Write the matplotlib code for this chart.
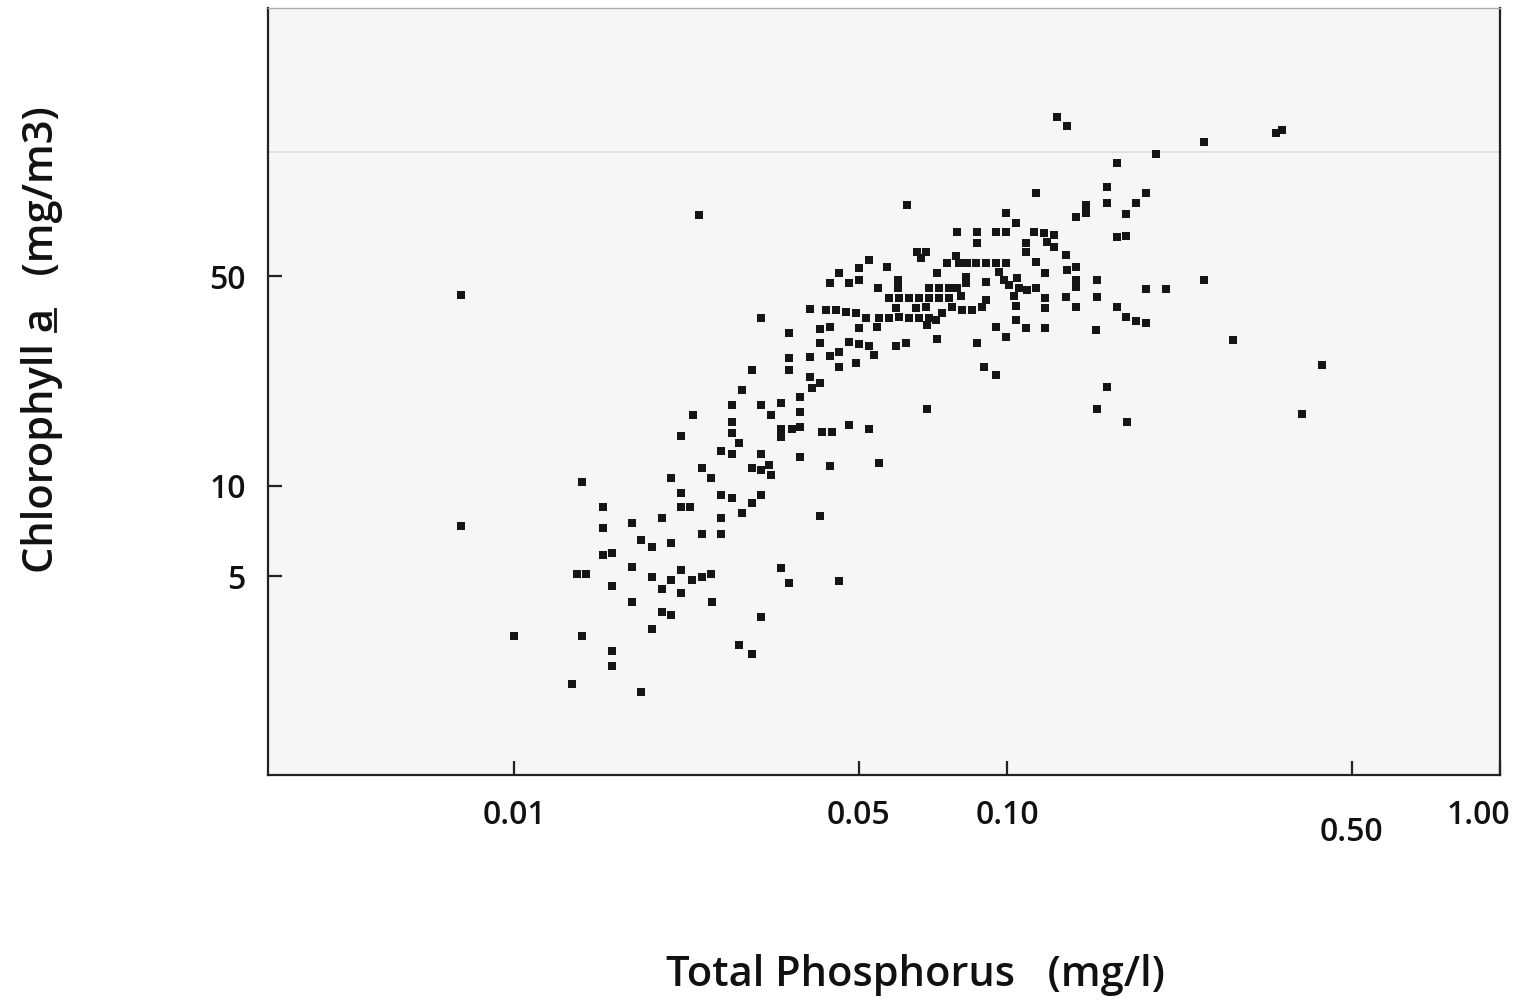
import matplotlib
matplotlib.use("Agg")
import matplotlib.pyplot as plt
from matplotlib.lines import Line2D
from matplotlib.transforms import ScaledTranslation

plt.rcParams['font.family'] = ['Open Sans', 'DejaVu Sans']

# Total phosphorus (mg/l) and chlorophyll a (mg/m3)
tp_mgl = [
    # low phosphorus end
    0.0078, 0.0078, 0.0100, 0.0131, 0.0137, 0.0137, 0.0134, 0.0140, 0.0151, 0.0151,
    0.0151, 0.0158, 0.0158, 0.0158, 0.0158, 0.0173, 0.0173, 0.0173, 0.0181, 0.0190,
    0.0181, 0.0190, 0.0190, 0.0199, 0.0199, 0.0199, 0.0208, 0.0208, 0.0208, 0.0208,
    0.0218, 0.0218, 0.0218, 0.0227, 0.0218, 0.0218, 0.0229, 0.0240, 0.0251, 0.0230,
    0.0240, 0.0251, 0.0252, 0.0240, 0.0237,
    # rising part
    0.0263, 0.0276, 0.0263, 0.0276, 0.0263, 0.0263, 0.0276, 0.0276, 0.0276, 0.0286,
    0.0289, 0.0289, 0.0303, 0.0317, 0.0332, 0.0329, 0.0303, 0.0317, 0.0317, 0.0317,
    0.0332, 0.0348, 0.0348, 0.0348, 0.0365, 0.0379, 0.0379, 0.0379, 0.0379, 0.0317,
    0.0348, 0.0361, 0.0286, 0.0303, 0.0456, 0.0416, 0.0420, 0.0440, 0.0478, 0.0525,
    0.0550, 0.0436, 0.0397, 0.0416, 0.0402,
    # dense middle
    0.0303, 0.0317, 0.0361, 0.0361, 0.0361, 0.0397, 0.0436, 0.0456, 0.0456, 0.0494,
    0.0537, 0.0397, 0.0429, 0.0449, 0.0471, 0.0494, 0.0416, 0.0436, 0.0501, 0.0545,
    0.0416, 0.0478, 0.0501, 0.0525, 0.0596, 0.0624, 0.0721, 0.0688, 0.0718, 0.0738,
    0.0518, 0.0550, 0.0576, 0.0604, 0.0633, 0.0663, 0.0695, 0.0596, 0.0654, 0.0685,
    0.0576, 0.0604, 0.0633, 0.0663, 0.0695, 0.0728, 0.0763, 0.0695, 0.0728, 0.0763,
    0.0792, 0.0547, 0.0601, 0.0601, 0.0456, 0.0436, 0.0478, 0.0501, 0.0525, 0.0501,
    0.0571, 0.0657, 0.0685, 0.0669, 0.0788, 0.0753, 0.0721, 0.0627,
    # around 0.1 mg/l
    0.1447, 0.1447, 0.1380, 0.0995, 0.1043, 0.0792, 0.0870, 0.0870, 0.0950, 0.0995,
    0.1134, 0.1188, 0.1245, 0.1206, 0.1245, 0.1317, 0.1092, 0.1092, 0.0799, 0.0830,
    0.0866, 0.0907, 0.0950, 0.0995, 0.1145, 0.1194, 0.1323, 0.1380, 0.1380, 0.1380,
    0.1523, 0.0826, 0.0826, 0.0907, 0.0963, 0.0986, 0.1009, 0.1048, 0.1057, 0.1097,
    0.1145, 0.0807, 0.0774, 0.0811, 0.0850, 0.0890, 0.0907, 0.1033, 0.1043, 0.1194,
    0.1194, 0.1317, 0.1380, 0.1523, 0.0950, 0.0995, 0.1043, 0.1092, 0.1194, 0.1516,
    0.0870, 0.0898, 0.0950, 0.0688, 0.1145,
    # high phosphorus end
    0.1263, 0.1323, 0.2511, 0.3512, 0.3612, 0.2006, 0.1672, 0.1596, 0.1596, 0.1827,
    0.1915, 0.1744, 0.1672, 0.1744, 0.1915, 0.2102, 0.2511, 0.1672, 0.1744, 0.1827,
    0.1915, 0.2873, 0.4356, 0.1596, 0.1523, 0.1752, 0.3966,
]

chl_mgm3 = [
    43.2, 7.34, 3.15, 2.18, 10.3, 3.15, 5.08, 5.08, 8.49, 7.23,
    5.87, 5.96, 4.63, 2.81, 2.51, 7.52, 5.36, 4.10, 6.59, 6.24,
    2.06, 4.96, 3.33, 7.81, 4.52, 3.79, 3.70, 6.44, 4.85, 10.6,
    14.7, 9.46, 8.49, 8.49, 5.24, 4.39, 4.85, 4.96, 5.08, 17.2,
    11.5, 10.6, 4.10, 6.90, 79.8,

    13.1, 12.8, 9.31, 9.10, 7.81, 6.90, 18.6, 16.3, 15.0, 13.9,
    20.8, 8.11, 11.5, 11.3, 10.9, 11.7, 8.75, 9.31, 12.8, 18.6,
    17.2, 18.9, 15.5, 14.5, 15.5, 15.7, 17.6, 12.5, 19.7, 3.65,
    5.32, 4.74, 2.94, 2.74, 4.81, 7.93, 15.1, 15.1, 15.9, 15.4,
    11.9, 11.6, 23.0, 22.0, 21.1,

    24.3, 36.1, 32.3, 26.6, 24.3, 26.8, 27.0, 27.9, 24.9, 25.6,
    27.2, 38.8, 38.5, 38.5, 37.9, 37.6, 33.3, 33.8, 33.5, 33.8,
    29.9, 30.1, 29.6, 29.2, 29.2, 29.9, 30.8, 34.3, 35.6, 37.6,
    36.1, 36.1, 36.1, 36.4, 36.1, 36.1, 36.1, 39.1, 39.1, 39.4,
    42.2, 42.2, 42.2, 42.2, 42.2, 42.2, 42.2, 45.6, 45.6, 45.6,
    45.6, 45.6, 48.5, 45.6, 51.1, 47.4, 47.4, 48.5, 56.5, 53.1,
    53.5, 60.1, 60.1, 57.4, 58.3, 55.2, 51.1, 86.1,

    86.1, 81.0, 78.6, 81.0, 75.0, 70.0, 70.0, 64.4, 70.0, 70.0,
    70.0, 69.5, 68.4, 64.9, 62.5, 58.8, 64.4, 60.1, 55.2, 55.2,
    55.2, 55.2, 55.2, 55.2, 55.6, 51.1, 52.3, 53.5, 48.5, 46.0,
    48.5, 49.6, 47.4, 47.8, 51.5, 48.5, 46.7, 49.2, 45.6, 44.9,
    45.6, 42.9, 39.4, 38.5, 38.5, 39.4, 41.6, 42.9, 39.8, 42.2,
    39.1, 42.5, 39.4, 42.5, 33.8, 31.3, 35.6, 33.5, 33.5, 33.0,
    29.9, 24.9, 23.4, 18.0, 94.5,

    169.5, 158.1, 139.8, 149.8, 153.3, 127.5, 119.0, 98.9, 87.5, 87.5,
    94.5, 80.5, 67.4, 67.9, 45.2, 45.2, 48.5, 39.4, 36.4, 35.3,
    35.0, 30.6, 25.2, 21.3, 18.0, 16.25, 17.4,
]

x_ticks = [0.01, 0.05, 0.10, 0.50, 1.00]
x_labels = ['0.01', '0.05', '0.10', '0.50', '1.00']
y_ticks = [5, 10, 50]
y_labels = ['5', '10', '50']

fig = plt.figure(figsize=(15.25, 10.02), dpi=100)
ax = fig.add_axes([0.1757, 0.2265, 0.8079, 0.7655])
ax.set_facecolor('#f6f6f6')

ax.scatter(tp_mgl, chl_mgm3, marker='s', s=36, color='#151515', linewidths=0, zorder=3)

ax.set_xscale('log')
ax.set_yscale('log')
ax.set_xlim(0.00316, 1.0)
ax.set_ylim(1.086, 391)

# faint scan line across the top of the plot
ax.axhline(130, color='#dcdcdc', lw=1.2, zorder=1)

ax.minorticks_off()
ax.set_xticks(x_ticks)
ax.set_xticklabels(x_labels)
ax.set_yticks(y_ticks)
ax.set_yticklabels(y_labels)
ax.tick_params(direction='in', length=10, width=1.6, color='#222222',
               labelsize=23, pad=17, labelcolor='#111111')
ax.tick_params(axis='y', pad=16)
for lab in ax.get_xticklabels() + ax.get_yticklabels():
    lab.set_fontweight('semibold')
# the 0.50 label sits a bit lower and 1.00 a bit to the left in the original
xl = ax.get_xticklabels()
xl[3].set_y(-0.022)
xl[4].set_transform(xl[4].get_transform() + ScaledTranslation(-0.22, 0, fig.dpi_scale_trans))

for side in ['left', 'bottom', 'right', 'top']:
    ax.spines[side].set_color('#222222')
    ax.spines[side].set_linewidth(1.6)
ax.spines['top'].set_color('#aaaaaa')
ax.spines['top'].set_linewidth(1.0)

fig.text(0.6, 0.027, 'Total Phosphorus   (mg/l)', ha='center', va='center',
         fontsize=30, fontweight='semibold', color='#111111')
ylab = fig.text(0.0275, 0.661, 'Chlorophyll a   (mg/m3)', rotation=90,
                ha='center', va='center', fontsize=30, fontweight='semibold',
                color='#111111')

# underline the "a" of the y label
renderer = fig.canvas.get_renderer()
full = ylab.get_window_extent(renderer)
tmp = fig.text(0, 0, 'Chlorophyll ', fontsize=30, fontweight='semibold')
w_pre = tmp.get_window_extent(renderer).width
tmp.set_text('Chlorophyll a')
w_a = tmp.get_window_extent(renderer).width
tmp.remove()
W, H = fig.bbox.width, fig.bbox.height
ux = full.x1 - 0.2 * full.width
fig.add_artist(Line2D([ux / W, ux / W], [(full.y0 + w_pre + 1) / H, (full.y0 + w_a - 1) / H],
                      transform=fig.transFigure, color='#111111', lw=2.0))

fig.savefig('out.png', dpi=100)
